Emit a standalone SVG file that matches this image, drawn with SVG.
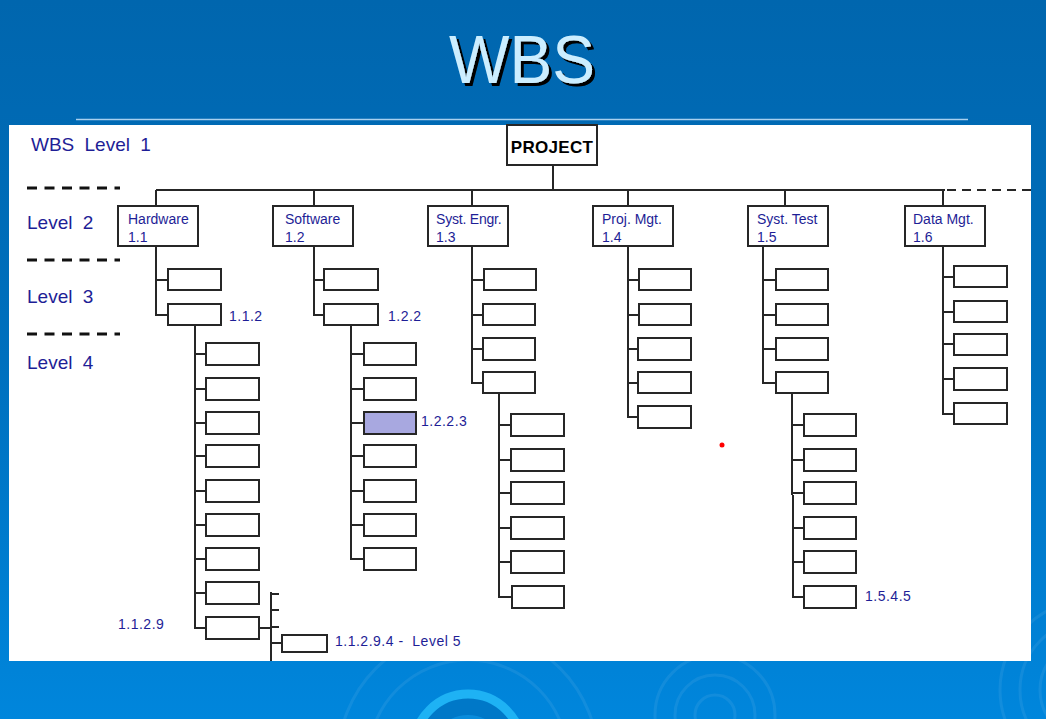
<svg xmlns="http://www.w3.org/2000/svg" width="1046" height="719" viewBox="0 0 1046 719">
  <defs>
    <linearGradient id="bg" x1="0" y1="0" x2="0" y2="1">
      <stop offset="0" stop-color="#0066AE"/>
      <stop offset="0.5" stop-color="#0070BE"/>
      <stop offset="1" stop-color="#0086DC"/>
    </linearGradient>
    <filter id="titleShadow" x="-10%" y="-10%" width="130%" height="130%">
      <feDropShadow dx="3" dy="3" stdDeviation="0" flood-color="#000000" flood-opacity="1"/>
    </filter>
    <style>
      .ln { stroke: #262626; stroke-width: 2; fill: none; }
      .bx { stroke: #262626; stroke-width: 2; fill: #FFFFFF; }
      .hl { stroke: #262626; stroke-width: 2; fill: #A8A8E0; }
      .lvl { font-family: "Liberation Sans", Arial, sans-serif; font-size: 19px; fill: #1E1E96; }
      .nd { font-family: "Liberation Sans", Arial, sans-serif; font-size: 14px; fill: #1E1E96; }
      .num { font-family: "Liberation Sans", Arial, sans-serif; font-size: 14px; fill: #1E1E96; letter-spacing: 0.5px; }
      .dash { stroke: #111111; stroke-width: 3; stroke-dasharray: 10 7.5; }
      .ring { fill: none; stroke: #FFFFFF; stroke-opacity: 0.07; stroke-width: 3; }
    </style>
  </defs>

  <!-- slide background -->
  <rect x="0" y="0" width="1046" height="719" fill="url(#bg)"/>
  <g id="ripples">
    <circle class="ring" cx="715" cy="715" r="60"/>
    <circle class="ring" cx="715" cy="715" r="40"/>
    <circle class="ring" cx="715" cy="715" r="20"/>
    <circle class="ring" cx="1090" cy="690" r="90"/>
    <circle class="ring" cx="1090" cy="690" r="70"/>
    <circle class="ring" cx="1090" cy="690" r="50"/>
    <circle class="ring" cx="1090" cy="690" r="30"/>
    <circle class="ring" cx="468" cy="760" r="130"/>
    <circle class="ring" cx="468" cy="760" r="100"/>
    <circle cx="468" cy="748" r="54" fill="#0078C8" stroke="#1EB2F4" stroke-width="9"/>
    <circle cx="468" cy="752" r="34" fill="none" stroke="#0A8CDC" stroke-width="6"/>
  </g>

  <!-- title -->
  <g id="title">
    <text x="522" y="83" text-anchor="middle" font-family="'Liberation Sans', Arial, sans-serif" font-size="68" textLength="146" lengthAdjust="spacingAndGlyphs" fill="#CCEEFF" filter="url(#titleShadow)">WBS</text>
    <line x1="76" y1="119.5" x2="968" y2="119.5" stroke="#A8D0EE" stroke-width="1.5"/>
  </g>

  <!-- chart panel -->
  <rect x="9" y="125" width="1022" height="536" fill="#FFFFFF"/>

  <!-- level markers -->
  <g id="levels">
    <text class="lvl" x="31" y="151" word-spacing="5">WBS Level 1</text>
    <line class="dash" x1="27" y1="188" x2="120" y2="188"/>
    <text class="lvl" x="27" y="229" word-spacing="5">Level 2</text>
    <line class="dash" x1="27" y1="260" x2="120" y2="260"/>
    <text class="lvl" x="27" y="303" word-spacing="5">Level 3</text>
    <line class="dash" x1="27" y1="334" x2="120" y2="334"/>
    <text class="lvl" x="27" y="369" word-spacing="5">Level 4</text>
  </g>

  <!-- connectors -->
  <g id="connectors">
    <!-- level 1 to level 2 -->
    <path class="ln" d="M553 165V190M156 190H945M156 190V206M314 190V206M472 190V206M628 190V206M785 190V206M943 190V206"/>
    <line class="ln" x1="947" y1="190" x2="1031" y2="190" stroke-dasharray="9 6"/>
    <!-- hardware -->
    <path class="ln" d="M156 246V315H168M156 280H168"/>
    <path class="ln" d="M195 325V628H206M195 354H206M195 389H206M195 423H206M195 456H206M195 491H206M195 525H206M195 559H206M195 593H206"/>
    <path class="ln" d="M259 628H271M271 592V661M271 594H279M271 610H279M271 627H279M271 643H282"/>
    <!-- software -->
    <path class="ln" d="M314 246V315H324M314 280H324"/>
    <path class="ln" d="M351 325V559H364M351 354H364M351 389H364M351 423H364M351 456H364M351 491H364M351 525H364"/>
    <!-- systems engineering -->
    <path class="ln" d="M472 246V383H483M472 280H484M472 315H483M472 349H483"/>
    <path class="ln" d="M499 393V597H511M499 425H511M499 460H511M499 493H511M499 528H511M499 562H511"/>
    <!-- project management -->
    <path class="ln" d="M628 246V417H638M628 280H639M628 315H639M628 349H638M628 383H638"/>
    <!-- systems test -->
    <path class="ln" d="M763 246V383H776M763 280H776M763 315H776M763 349H776"/>
    <path class="ln" d="M792 393V495M793 495V597H804M792 425H804M792 460H804M792 493H804M793 528H804M793 562H804"/>
    <!-- data management -->
    <path class="ln" d="M943 246V414H954M943 277H954M943 312H954M943 344H954M943 379H954"/>
  </g>

  <!-- level 1 -->
  <g id="project">
    <rect class="bx" x="507" y="125" width="90" height="40"/>
    <text x="552" y="153" text-anchor="middle" font-family="'Liberation Sans', Arial, sans-serif" font-size="17" font-weight="bold" fill="#000000" letter-spacing="0.3">PROJECT</text>
  </g>

  <!-- level 2 -->
  <g id="hardware">
    <rect class="bx" x="118" y="206" width="80" height="40"/>
    <text class="nd" x="128" y="224">Hardware</text>
    <text class="nd" x="128" y="242">1.1</text>
  </g>
  <g id="software">
    <rect class="bx" x="273" y="206" width="80" height="40"/>
    <text class="nd" x="285" y="224">Software</text>
    <text class="nd" x="285" y="242">1.2</text>
  </g>
  <g id="syst-engr">
    <rect class="bx" x="428" y="206" width="80" height="40"/>
    <text class="nd" x="436" y="224" letter-spacing="-0.2">Syst. Engr.</text>
    <text class="nd" x="436" y="242">1.3</text>
  </g>
  <g id="proj-mgt">
    <rect class="bx" x="593" y="206" width="80" height="40"/>
    <text class="nd" x="602" y="224">Proj. Mgt.</text>
    <text class="nd" x="602" y="242">1.4</text>
  </g>
  <g id="syst-test">
    <rect class="bx" x="748" y="206" width="80" height="40"/>
    <text class="nd" x="757" y="224">Syst. Test</text>
    <text class="nd" x="757" y="242">1.5</text>
  </g>
  <g id="data-mgt">
    <rect class="bx" x="905" y="206" width="80" height="40"/>
    <text class="nd" x="913" y="224">Data Mgt.</text>
    <text class="nd" x="913" y="242">1.6</text>
  </g>

  <!-- level 3 -->
  <g id="hw-l3">
    <rect class="bx" x="168" y="269" width="53" height="21"/>
    <rect class="bx" x="168" y="304" width="53" height="21"/>
    <text class="num" x="229" y="321">1.1.2</text>
  </g>
  <g id="sw-l3">
    <rect class="bx" x="324" y="269" width="54" height="21"/>
    <rect class="bx" x="324" y="304" width="54" height="21"/>
    <text class="num" x="388" y="321">1.2.2</text>
  </g>
  <g id="se-l3">
    <rect class="bx" x="484" y="269" width="52" height="21"/>
    <rect class="bx" x="483" y="304" width="52" height="21"/>
    <rect class="bx" x="483" y="338" width="52" height="22"/>
    <rect class="bx" x="483" y="372" width="52" height="21"/>
  </g>
  <g id="pm-l3">
    <rect class="bx" x="639" y="269" width="52" height="21"/>
    <rect class="bx" x="639" y="304" width="52" height="21"/>
    <rect class="bx" x="638" y="338" width="53" height="22"/>
    <rect class="bx" x="638" y="372" width="53" height="21"/>
    <rect class="bx" x="638" y="406" width="53" height="22"/>
  </g>
  <g id="st-l3">
    <rect class="bx" x="776" y="269" width="52" height="21"/>
    <rect class="bx" x="776" y="304" width="52" height="21"/>
    <rect class="bx" x="776" y="338" width="52" height="22"/>
    <rect class="bx" x="776" y="372" width="52" height="21"/>
  </g>
  <g id="dm-l3">
    <rect class="bx" x="954" y="266" width="53" height="21"/>
    <rect class="bx" x="954" y="301" width="53" height="21"/>
    <rect class="bx" x="954" y="334" width="53" height="21"/>
    <rect class="bx" x="954" y="368" width="53" height="22"/>
    <rect class="bx" x="954" y="403" width="53" height="21"/>
  </g>

  <!-- level 4 -->
  <g id="hw-l4">
    <rect class="bx" x="206" y="343" width="53" height="22"/>
    <rect class="bx" x="206" y="378" width="53" height="22"/>
    <rect class="bx" x="206" y="412" width="53" height="22"/>
    <rect class="bx" x="206" y="445" width="53" height="22"/>
    <rect class="bx" x="206" y="480" width="53" height="22"/>
    <rect class="bx" x="206" y="514" width="53" height="22"/>
    <rect class="bx" x="206" y="548" width="53" height="22"/>
    <rect class="bx" x="206" y="582" width="53" height="22"/>
    <rect class="bx" x="206" y="617" width="53" height="22"/>
    <text class="num" x="118" y="629">1.1.2.9</text>
  </g>
  <g id="sw-l4">
    <rect class="bx" x="364" y="343" width="52" height="22"/>
    <rect class="bx" x="364" y="378" width="52" height="22"/>
    <rect class="hl" x="364" y="412" width="52" height="22"/>
    <rect class="bx" x="364" y="445" width="52" height="22"/>
    <rect class="bx" x="364" y="480" width="52" height="22"/>
    <rect class="bx" x="364" y="514" width="52" height="22"/>
    <rect class="bx" x="364" y="548" width="52" height="22"/>
    <text class="num" x="421" y="426">1.2.2.3</text>
  </g>
  <g id="se-l4">
    <rect class="bx" x="511" y="414" width="53" height="22"/>
    <rect class="bx" x="511" y="449" width="53" height="22"/>
    <rect class="bx" x="511" y="482" width="53" height="22"/>
    <rect class="bx" x="511" y="517" width="53" height="22"/>
    <rect class="bx" x="511" y="551" width="53" height="22"/>
    <rect class="bx" x="512" y="586" width="52" height="22"/>
  </g>
  <g id="st-l4">
    <rect class="bx" x="804" y="414" width="52" height="22"/>
    <rect class="bx" x="804" y="449" width="52" height="22"/>
    <rect class="bx" x="804" y="482" width="52" height="22"/>
    <rect class="bx" x="804" y="517" width="52" height="22"/>
    <rect class="bx" x="804" y="551" width="52" height="22"/>
    <rect class="bx" x="804" y="586" width="52" height="22"/>
    <text class="num" x="865" y="601">1.5.4.5</text>
  </g>

  <!-- level 5 -->
  <g id="hw-l5">
    <rect class="bx" x="282" y="635" width="45" height="17"/>
    <text class="num" x="335" y="646" xml:space="preserve">1.1.2.9.4 -  Level 5</text>
  </g>

  <!-- pointer dot -->
  <circle cx="722" cy="445" r="2.5" fill="#FF0000"/>
</svg>
